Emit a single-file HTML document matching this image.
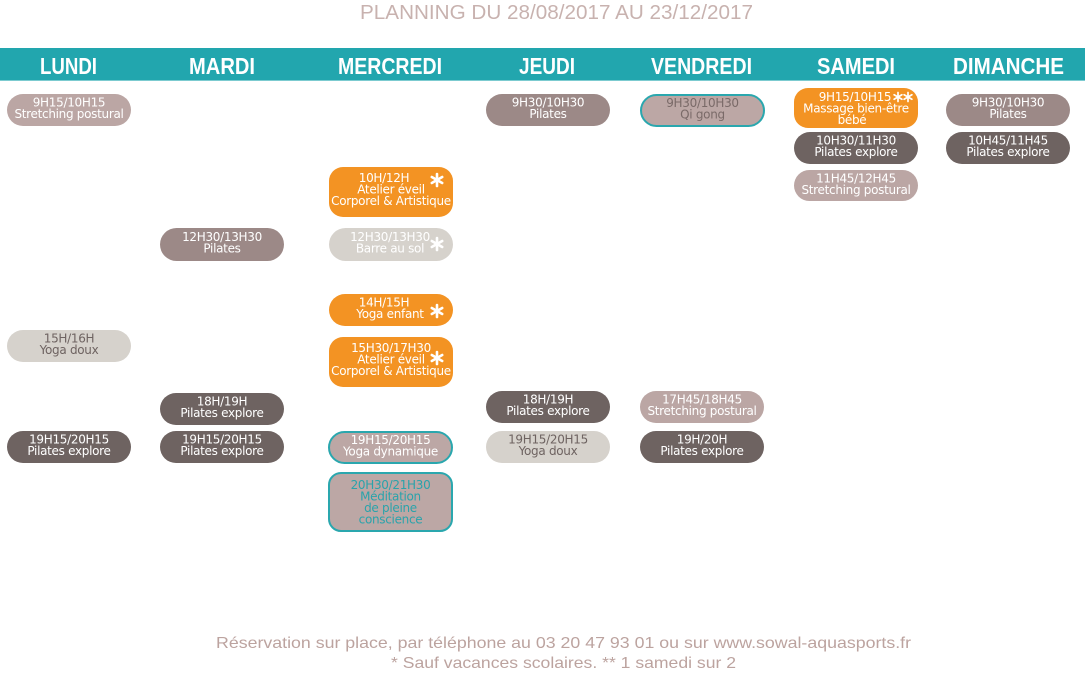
<!DOCTYPE html>
<html>
<head>
<meta charset="utf-8">
<style>
  html,body{margin:0;padding:0;background:#fff;}
  body{width:1086px;height:675px;overflow:hidden;}
  svg{display:block;}
  .t{font-family:"DejaVu Sans","Liberation Sans",sans-serif;font-size:12px;letter-spacing:-0.3px;text-anchor:middle;}
  .w{fill:#ffffff;}
  .g{fill:#6e6361;}
  .q{fill:#7a6a68;}
  .tl{fill:#2aa3ab;}
  .day{font-family:"Liberation Sans",sans-serif;font-weight:bold;font-size:23px;fill:#fff;text-anchor:middle;}
  .ast line{stroke:#fff;stroke-width:2.6;stroke-linecap:round;}
  .ast2 line{stroke:#fff;stroke-width:1.7;stroke-linecap:round;}
</style>
</head>
<body>
<svg width="1086" height="675" viewBox="0 0 1086 675" xmlns="http://www.w3.org/2000/svg">
  <!-- Title -->
  <text x="556.5" y="19" font-family="'Liberation Sans',sans-serif" font-size="20" fill="#c8b2af" text-anchor="middle" textLength="393" lengthAdjust="spacingAndGlyphs">PLANNING DU 28/08/2017 AU 23/12/2017</text>

  <!-- Header bar -->
  <rect x="0" y="48" width="1085" height="33" fill="#22a6ae"/>
  <rect x="0" y="80" width="1085" height="1" fill="#7ccbd0"/>
  <text class="day" x="68.5" y="74" textLength="57" lengthAdjust="spacingAndGlyphs">LUNDI</text>
  <text class="day" x="222" y="74" textLength="66" lengthAdjust="spacingAndGlyphs">MARDI</text>
  <text class="day" x="390" y="74" textLength="104" lengthAdjust="spacingAndGlyphs">MERCREDI</text>
  <text class="day" x="547" y="74" textLength="56" lengthAdjust="spacingAndGlyphs">JEUDI</text>
  <text class="day" x="701.5" y="74" textLength="101" lengthAdjust="spacingAndGlyphs">VENDREDI</text>
  <text class="day" x="856" y="74" textLength="78" lengthAdjust="spacingAndGlyphs">SAMEDI</text>
  <text class="day" x="1008.5" y="74" textLength="111" lengthAdjust="spacingAndGlyphs">DIMANCHE</text>

  <!-- LUNDI -->
  <rect x="7" y="94" width="124" height="32" rx="16" fill="#bba6a4"/>
  <text class="t w" x="69" y="106.5">9H15/10H15</text>
  <text class="t w" x="69" y="118">Stretching postural</text>

  <rect x="7" y="330" width="124" height="32" rx="16" fill="#d6d2cc"/>
  <text class="t g" x="69" y="342.5">15H/16H</text>
  <text class="t g" x="69" y="354">Yoga doux</text>

  <rect x="7" y="431" width="124" height="32" rx="16" fill="#6e6361"/>
  <text class="t w" x="69" y="443.5">19H15/20H15</text>
  <text class="t w" x="69" y="455">Pilates explore</text>

  <!-- MARDI -->
  <rect x="160" y="228" width="124" height="33" rx="16.5" fill="#9c8987"/>
  <text class="t w" x="222" y="241">12H30/13H30</text>
  <text class="t w" x="222" y="252.5">Pilates</text>

  <rect x="160" y="393" width="124" height="32" rx="16" fill="#6e6361"/>
  <text class="t w" x="222" y="405.5">18H/19H</text>
  <text class="t w" x="222" y="417">Pilates explore</text>

  <rect x="160" y="431" width="124" height="32" rx="16" fill="#6e6361"/>
  <text class="t w" x="222" y="443.5">19H15/20H15</text>
  <text class="t w" x="222" y="455">Pilates explore</text>

  <!-- MERCREDI -->
  <rect x="329" y="167" width="124" height="50" rx="14" fill="#f39323"/>
  <text class="t w" x="384" y="182">10H/12H</text>
  <text class="t w" x="391" y="193.5">Atelier éveil</text>
  <text class="t w" x="391" y="205">Corporel &amp; Artistique</text>
  <g class="ast" transform="translate(437,180)"><line x1="0" y1="-6" x2="0" y2="6"/><line x1="-5.2" y1="-3" x2="5.2" y2="3"/><line x1="-5.2" y1="3" x2="5.2" y2="-3"/></g>

  <rect x="329" y="228" width="124" height="33" rx="16.5" fill="#d6d2cc"/>
  <text class="t w" x="390" y="241">12H30/13H30</text>
  <text class="t w" x="390" y="252.5">Barre au sol</text>
  <g class="ast" transform="translate(437,244)"><line x1="0" y1="-6" x2="0" y2="6"/><line x1="-5.2" y1="-3" x2="5.2" y2="3"/><line x1="-5.2" y1="3" x2="5.2" y2="-3"/></g>

  <rect x="329" y="294" width="124" height="32" rx="16" fill="#f39323"/>
  <text class="t w" x="384" y="306.5">14H/15H</text>
  <text class="t w" x="390" y="318">Yoga enfant</text>
  <g class="ast" transform="translate(437,311)"><line x1="0" y1="-6" x2="0" y2="6"/><line x1="-5.2" y1="-3" x2="5.2" y2="3"/><line x1="-5.2" y1="3" x2="5.2" y2="-3"/></g>

  <rect x="329" y="337" width="124" height="50" rx="14" fill="#f39323"/>
  <text class="t w" x="391" y="352">15H30/17H30</text>
  <text class="t w" x="391" y="363.5">Atelier éveil</text>
  <text class="t w" x="391" y="375">Corporel &amp; Artistique</text>
  <g class="ast" transform="translate(437,358)"><line x1="0" y1="-6" x2="0" y2="6"/><line x1="-5.2" y1="-3" x2="5.2" y2="3"/><line x1="-5.2" y1="3" x2="5.2" y2="-3"/></g>

  <rect x="329" y="432" width="123" height="31" rx="15.5" fill="#bca7a5" stroke="#2aa7ae" stroke-width="2"/>
  <text class="t w" x="390.5" y="444">19H15/20H15</text>
  <text class="t w" x="390.5" y="455.5">Yoga dynamique</text>

  <rect x="329" y="473" width="123" height="58" rx="12" fill="#bca7a5" stroke="#2aa7ae" stroke-width="2"/>
  <text class="t tl" x="390.5" y="489">20H30/21H30</text>
  <text class="t tl" x="390.5" y="500.5">Méditation</text>
  <text class="t tl" x="390.5" y="512">de pleine</text>
  <text class="t tl" x="390.5" y="523.5">conscience</text>

  <!-- JEUDI -->
  <rect x="486" y="94" width="124" height="32" rx="16" fill="#9c8987"/>
  <text class="t w" x="548" y="106.5">9H30/10H30</text>
  <text class="t w" x="548" y="118">Pilates</text>

  <rect x="486" y="391" width="124" height="32" rx="16" fill="#6e6361"/>
  <text class="t w" x="548" y="403.5">18H/19H</text>
  <text class="t w" x="548" y="415">Pilates explore</text>

  <rect x="486" y="431" width="124" height="32" rx="16" fill="#d6d2cc"/>
  <text class="t g" x="548" y="443.5">19H15/20H15</text>
  <text class="t g" x="548" y="455">Yoga doux</text>

  <!-- VENDREDI -->
  <rect x="641" y="95" width="123" height="31" rx="15.5" fill="#bca7a5" stroke="#2aa7ae" stroke-width="2"/>
  <text class="t q" x="702.5" y="107">9H30/10H30</text>
  <text class="t q" x="702.5" y="118.5">Qi gong</text>

  <rect x="640" y="391" width="124" height="32" rx="16" fill="#bba6a4"/>
  <text class="t w" x="702" y="403.5">17H45/18H45</text>
  <text class="t w" x="702" y="415">Stretching postural</text>

  <rect x="640" y="431" width="124" height="32" rx="16" fill="#6e6361"/>
  <text class="t w" x="702" y="443.5">19H/20H</text>
  <text class="t w" x="702" y="455">Pilates explore</text>

  <!-- SAMEDI -->
  <rect x="794" y="88" width="124" height="40" rx="14" fill="#f39323"/>
  <text class="t w" x="855" y="101">9H15/10H15</text>
  <g class="ast2" transform="translate(898,97)"><line x1="0" y1="-4.5" x2="0" y2="4.5"/><line x1="-3.9" y1="-2.25" x2="3.9" y2="2.25"/><line x1="-3.9" y1="2.25" x2="3.9" y2="-2.25"/></g>
  <g class="ast2" transform="translate(908,97)"><line x1="0" y1="-4.5" x2="0" y2="4.5"/><line x1="-3.9" y1="-2.25" x2="3.9" y2="2.25"/><line x1="-3.9" y1="2.25" x2="3.9" y2="-2.25"/></g>
  <text class="t w" x="856" y="112.5">Massage bien-être</text>
  <text class="t w" x="852" y="124">bébé</text>

  <rect x="794" y="132" width="124" height="32" rx="16" fill="#6e6361"/>
  <text class="t w" x="856" y="144.5">10H30/11H30</text>
  <text class="t w" x="856" y="156">Pilates explore</text>

  <rect x="794" y="170" width="124" height="31" rx="15.5" fill="#bba6a4"/>
  <text class="t w" x="856" y="182.5">11H45/12H45</text>
  <text class="t w" x="856" y="194">Stretching postural</text>

  <!-- DIMANCHE -->
  <rect x="946" y="94" width="124" height="32" rx="16" fill="#9c8987"/>
  <text class="t w" x="1008" y="106.5">9H30/10H30</text>
  <text class="t w" x="1008" y="118">Pilates</text>

  <rect x="946" y="132" width="124" height="32" rx="16" fill="#6e6361"/>
  <text class="t w" x="1008" y="144.5">10H45/11H45</text>
  <text class="t w" x="1008" y="156">Pilates explore</text>

  <!-- Footer -->
  <text x="563.5" y="648" font-family="'Liberation Sans',sans-serif" font-size="16" fill="#bca39f" text-anchor="middle" textLength="695" lengthAdjust="spacingAndGlyphs">Réservation sur place, par téléphone au 03 20 47 93 01 ou sur www.sowal-aquasports.fr</text>
  <text x="563.5" y="668" font-family="'Liberation Sans',sans-serif" font-size="16" fill="#bca39f" text-anchor="middle" textLength="345" lengthAdjust="spacingAndGlyphs">* Sauf vacances scolaires. ** 1 samedi sur 2</text>
</svg>
</body>
</html>
